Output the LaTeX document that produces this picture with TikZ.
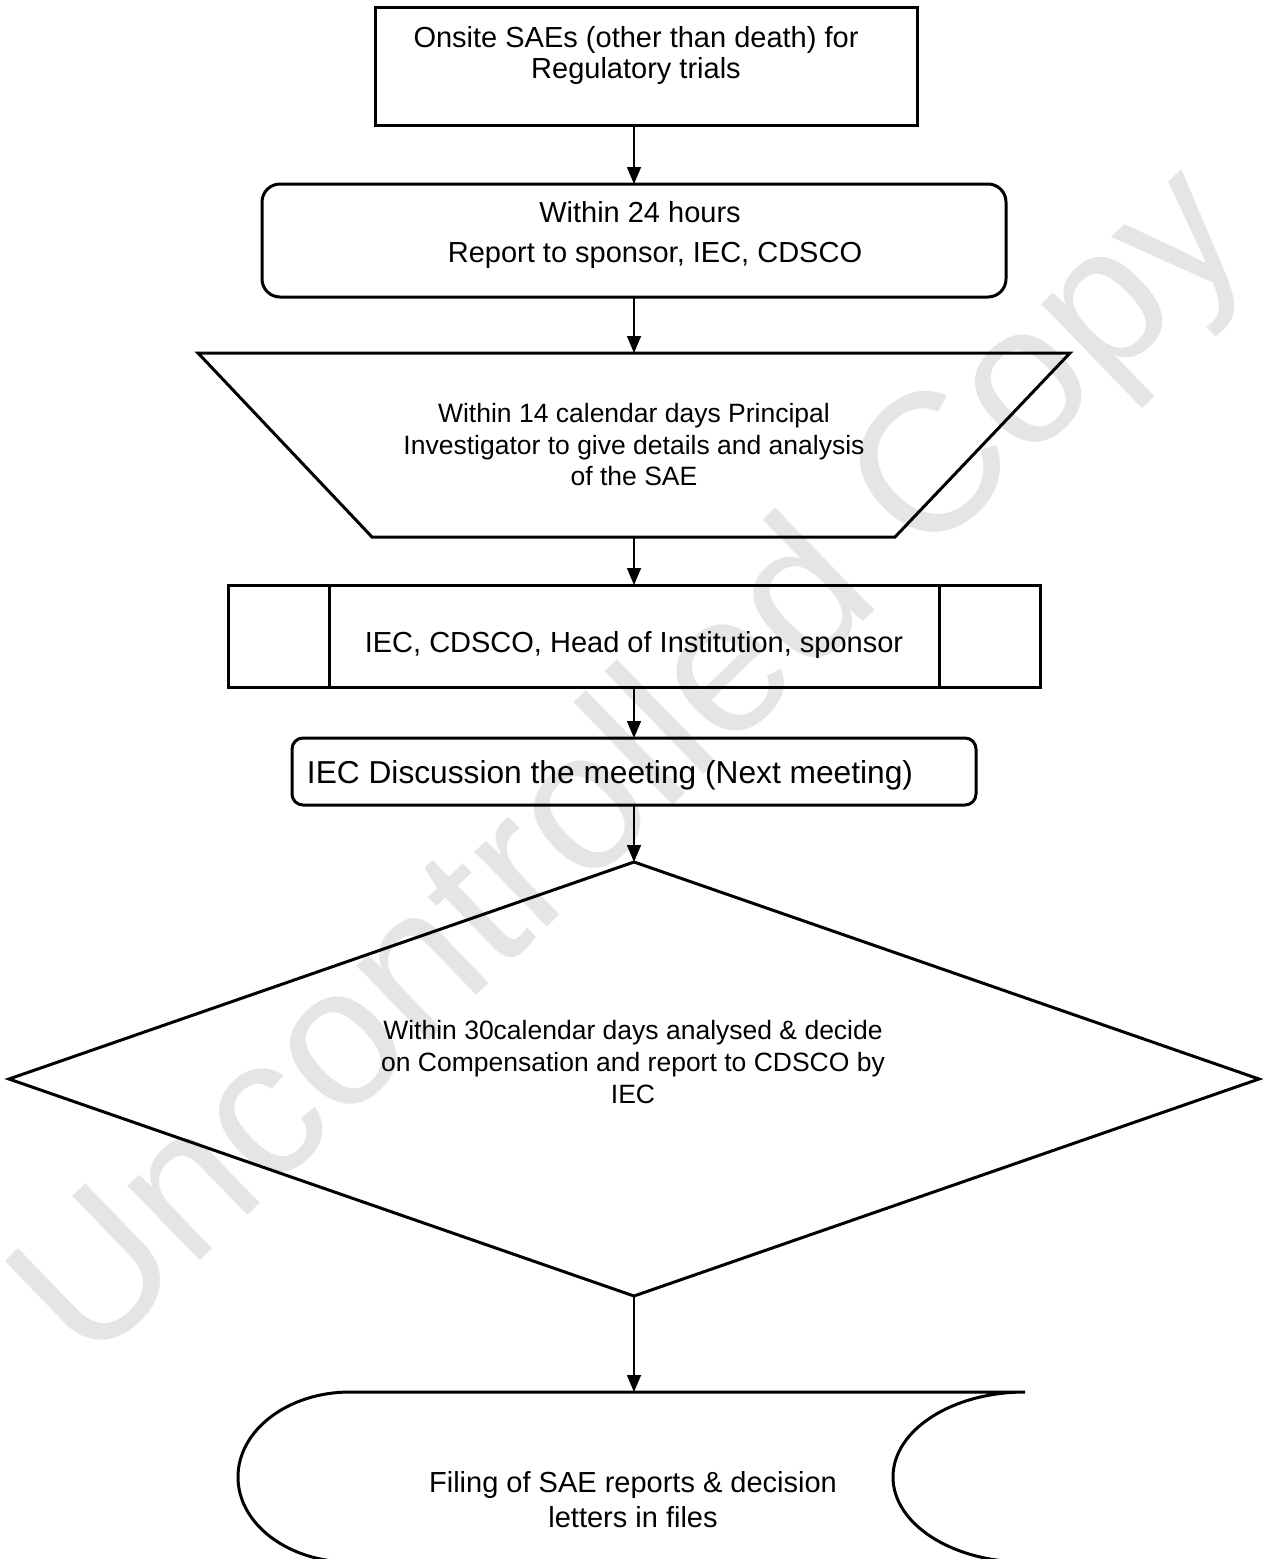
\documentclass[tikz,border=0pt]{standalone}
\usepackage{fontspec}
\setmainfont{Liberation Sans}
\usetikzlibrary{arrows.meta,shapes.geometric}
\definecolor{wmgray}{RGB}{229,229,229}
\begin{document}
\begin{tikzpicture}[x=1pt,y=-1pt,
  box/.style={draw=black, line width=3pt, inner sep=0pt, outer sep=0pt},
  conn/.style={draw=black, line width=1.5pt, -{Triangle[width=14pt,length=17pt]}},
  txt/.style={align=center, inner sep=0pt, font=\fontsize{29}{31}\selectfont},
  txts/.style={align=center, inner sep=0pt, font=\fontsize{26.5}{31.5}\selectfont}]
\useasboundingbox (0,0) rectangle (1262,1559);
\fill[white] (0,0) rectangle (1262,1559);
% watermark
\node[text=wmgray, inner sep=0pt, font=\fontsize{197}{197}\selectfont, rotate=44] (wm) at (636,770) {Uncontrolled Copy};
% 1 top rectangle
\node[box, minimum width=542pt, minimum height=118pt] (n1) at (646,66) {};
\node[txt] (t1) at (636,55) {Onsite SAEs (other than death) for\\Regulatory trials};
% 2 rounded rectangle
\node[box, rounded corners=18pt, minimum width=744pt, minimum height=113pt] (n2) at (634,240.5) {};
\node[txt, font=\fontsize{29}{40}\selectfont] (t2) at (640,234.5) {Within 24 hours\\\hspace*{30pt}Report to sponsor, IEC, CDSCO};
% 3 trapezoid
\coordinate (n3n) at (634,353);
\coordinate (n3s) at (634,537);
\draw[box] (198,353) -- (1070,353) -- (895,537) -- (372,537) -- cycle;
\node[txts] (t3) at (634,445) {Within 14 calendar days Principal\\Investigator to give details and analysis\\of the SAE};
% 4 predefined process
\node[box, minimum width=812pt, minimum height=102pt] (n4) at (634,636) {};
\draw[box] ([xshift=101pt]n4.north west) -- ([xshift=101pt]n4.south west);
\draw[box] ([xshift=-101pt]n4.north east) -- ([xshift=-101pt]n4.south east);
\node[txt] (t4) at (634,645) {IEC, CDSCO, Head of Institution, sponsor};
% 5 rounded rectangle
\node[box, rounded corners=11pt, minimum width=684pt, minimum height=67pt] (n5) at (634,771.5) {};
\node[txt, font=\fontsize{31.7}{34}\selectfont] (t5) at (610,775) {IEC Discussion the meeting (Next meeting)};
% 6 diamond
\node[box, diamond, minimum width=1250pt, minimum height=434pt] (n6) at (634,1079) {};
\node[txts, font=\fontsize{26.5}{32}\selectfont] (t6) at (633,1062) {Within 30calendar days analysed \& decide\\on Compensation and report to CDSCO by\\IEC};
% 7 stored data
\coordinate (n7n) at (634,1392);
\draw[box] (1025,1392) -- (350,1392) arc[start angle=90, end angle=270, x radius=112pt, y radius=85pt] -- (1025,1562) arc[start angle=270, end angle=90, x radius=132pt, y radius=85pt];
\node[txt, font=\fontsize{29}{35}\selectfont] (t7) at (633,1500) {Filing of SAE reports \& decision\\letters in files};
% connectors
\draw[conn] (n1.south -| n2.north) -- (n2.north);
\draw[conn] (n2.south) -- (n3n);
\draw[conn] (n3s) -- (n4.north);
\draw[conn] (n4.south) -- (n5.north);
\draw[conn] (n5.south) -- (n6.north);
\draw[conn] (n6.south) -- (n7n);
\end{tikzpicture}
\end{document}
